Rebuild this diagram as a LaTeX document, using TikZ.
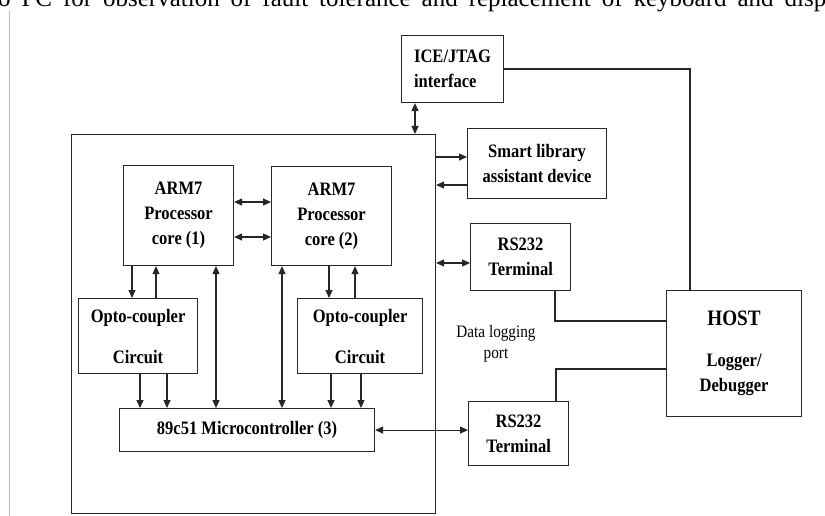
\documentclass[tikz,border=0pt]{standalone}
\usepackage{fontspec}
\setmainfont{Liberation Serif}
\newfontfamily\boxfont{Liberation Serif}[FakeStretch=0.87]
\usetikzlibrary{arrows.meta, positioning}

\begin{document}
\begin{tikzpicture}[
    x=1pt, y=-1pt,
    >={Triangle[length=8pt, width=7pt]},
    block/.style={
        rectangle, draw=black!85, line width=1.1pt, inner sep=0pt,
        anchor=north west, align=center,
        font=\boxfont\fontsize{19}{25}\selectfont\bfseries
    },
    wire/.style={line width=1.1pt, draw=black!85},
    arrow/.style={wire, ->},
    darrow/.style={wire, <->},
    note/.style={font=\boxfont\fontsize{17.5}{21}\selectfont, align=center}
]
    \useasboundingbox (0,0) rectangle (825,516);
    \clip (0,0) rectangle (825,516);
    % Caption line cut off at the top
    \node[anchor=base west, inner sep=0pt] (caption) at (-9,7)
        {\fontsize{25}{30}\selectfont\makebox[835pt][s]{to PC for observation of fault tolerance and replacement of keyboard and disp}};
    \draw[black!25, line width=0.8pt] (9.5,10) -- (9.5,516);
    % Nodes
    \node[block, minimum width=364pt, minimum height=379pt] (board) at (71,134) {};
    \node[block, align=left, minimum width=102pt, minimum height=67pt] (ice) at (401,35) {ICE/JTAG\\interface};
    \node[block, minimum width=139pt, minimum height=70pt] (smart) at (467,128) {Smart library\\assistant device};
    \node[block, minimum width=110pt, minimum height=100pt] (arm1) at (123,165) {ARM7\\Processor\\core (1)};
    \node[block, minimum width=120pt, minimum height=99pt] (arm2) at (271,166) {ARM7\\Processor\\core (2)};
    \node[block, minimum width=100pt, minimum height=67pt] (rsa) at (470,223) {RS232\\Terminal};
    \node[block, minimum width=119pt, minimum height=75pt] (opto1) at (78,298) {Opto-coupler\\[16pt]Circuit};
    \node[block, minimum width=125pt, minimum height=75pt] (opto2) at (297,298) {Opto-coupler\\[16pt]Circuit};
    \node[block, minimum width=255pt, minimum height=43pt] (micro) at (119,408) {89c51 Microcontroller (3)};
    \node[block, minimum width=135pt, minimum height=126pt] (host) at (666,290) {{\fontsize{22}{24}\selectfont HOST}\\[16pt]Logger/\\Debugger};
    \node[block, minimum width=100pt, minimum height=64pt] (rsb) at (468,401) {RS232\\Terminal};
    \node[note] (datalog) at (496,344) {Data logging\\port};
    % Connections
    \coordinate (icejt) at ([xshift=14pt]ice.south west);
    \draw[darrow] (icejt) -- (icejt |- board.north);
    \draw[wire] (ice.east) -| ([xshift=24pt]host.north west);
    \coordinate (smin) at ([yshift=-29pt]smart.north west);
    \coordinate (smout) at ([yshift=-57pt]smart.north west);
    \draw[arrow] (smin -| board.east) -- (smin);
    \draw[arrow] (smout) -- (smout -| board.east);
    \coordinate (armtop) at ([yshift=-37pt]arm1.north east);
    \coordinate (armbot) at ([yshift=-72pt]arm1.north east);
    \draw[darrow] (armtop) -- (armtop -| arm2.west);
    \draw[darrow] (armbot) -- (armbot -| arm2.west);
    \coordinate (rsaport) at ([yshift=-40pt]rsa.north west);
    \draw[darrow] (rsaport -| board.east) -- (rsaport);
    \draw[wire] ([xshift=85pt]rsa.south west) |- ([yshift=-31pt]host.north west);
    \draw[wire] ([yshift=-79pt]host.north west) -| ([xshift=88pt]rsb.north west);
    \draw[darrow] (micro.east) -- (micro.east -| rsb.west);
    % Processor core links
    \coordinate (a1d) at ([xshift=9pt]arm1.south west);
    \coordinate (a1u) at ([xshift=33pt]arm1.south west);
    \coordinate (a1m) at ([xshift=93pt]arm1.south west);
    \draw[arrow] (a1d) -- (a1d |- opto1.north);
    \draw[arrow] (a1u |- opto1.north) -- (a1u);
    \draw[darrow] (a1m) -- (a1m |- micro.north);
    \coordinate (a2m) at ([xshift=11pt]arm2.south west);
    \coordinate (a2d) at ([xshift=58pt]arm2.south west);
    \coordinate (a2u) at ([xshift=84pt]arm2.south west);
    \draw[darrow] (a2m) -- (a2m |- micro.north);
    \draw[arrow] (a2d) -- (a2d |- opto2.north);
    \draw[arrow] (a2u |- opto2.north) -- (a2u);
    % Opto-coupler outputs
    \foreach \dx in {62,89} {
        \coordinate (o1) at ([xshift=\dx pt]opto1.south west);
        \draw[arrow] (o1) -- (o1 |- micro.north);
    }
    \foreach \dx in {34,64} {
        \coordinate (o2) at ([xshift=\dx pt]opto2.south west);
        \draw[arrow] (o2) -- (o2 |- micro.north);
    }
\end{tikzpicture}
\end{document}
